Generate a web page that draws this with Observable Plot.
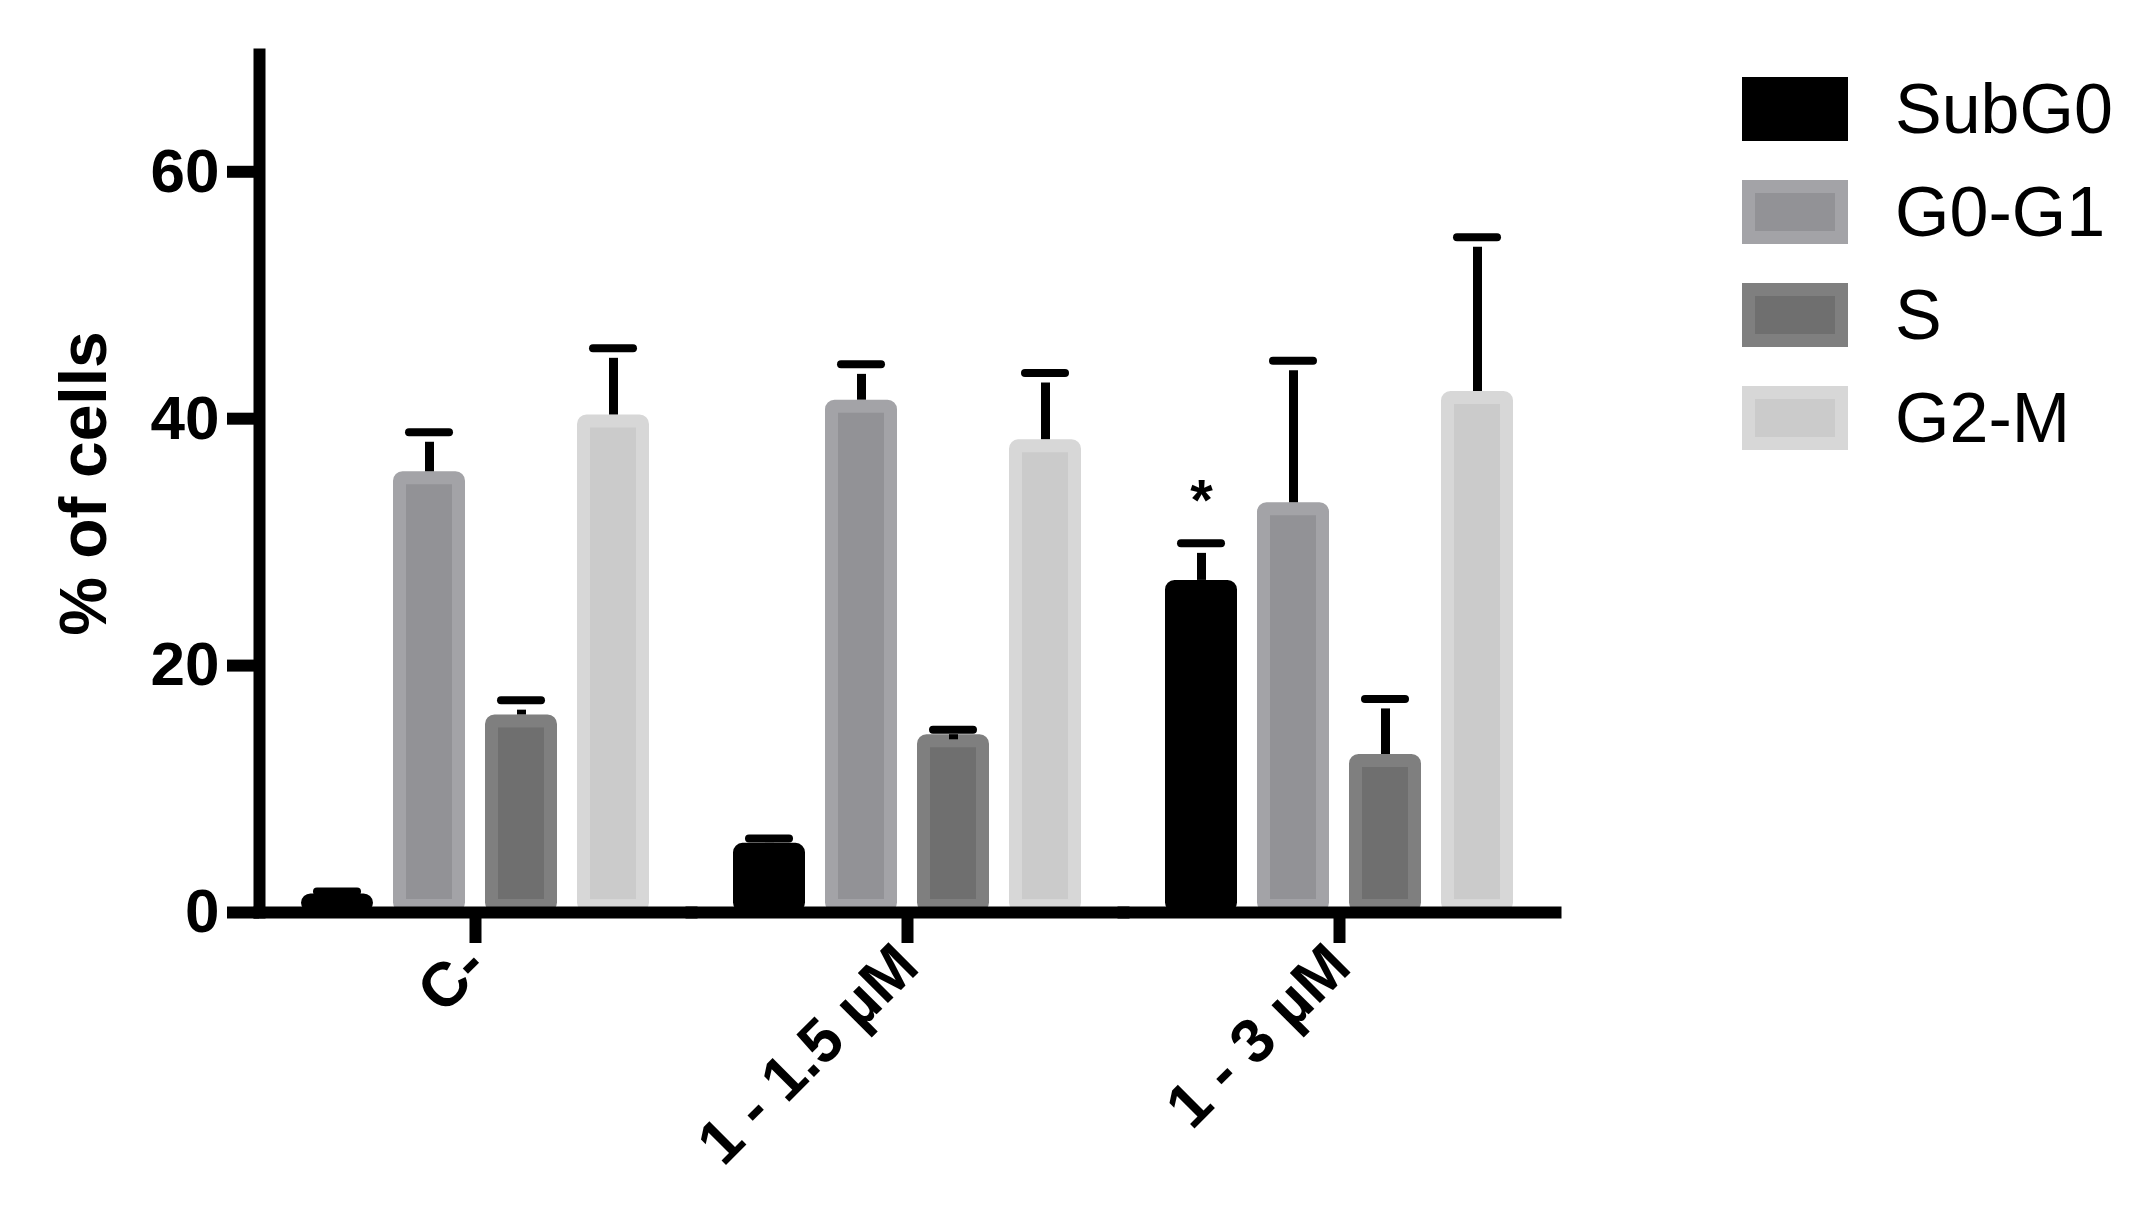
<!DOCTYPE html>
<html>
<head>
<meta charset="utf-8">
<script src="https://cdn.jsdelivr.net/npm/d3@7"></script>
<script src="https://cdn.jsdelivr.net/npm/@observablehq/plot@0.6"></script>
<style>
  html, body { margin: 0; padding: 0; background: #fff; }
  #wrap { position: relative; width: 2142px; height: 1214px; overflow: hidden; font-family: "Liberation Sans", Arial, sans-serif; }
  #chart { position: absolute; left: 0; top: 0; }
  #legend { position: absolute; left: 1742px; top: 77px; }
  .row { display: flex; align-items: center; height: 64px; margin-bottom: 39px; }
  .sw { width: 106px; height: 64px; box-sizing: border-box; border: 13px solid; }
  .lab { margin-left: 47px; font-size: 70px; color: #000; line-height: 1; }
  [aria-label="y-axis label"] text, [aria-label="y-axis label"] { font-size: 66px; }
</style>
</head>
<body>
<div id="wrap">
  <div id="chart"></div>
  <div id="legend"></div>
</div>
<script>
// ---- data ----
const groups = ["C-", "1 - 1.5 µM", "1 - 3 µM"];
const phases = ["SubG0", "G0-G1", "S", "G2-M"];
const subG0 = [1.5, 5.6, 26.9];
const g0g1 = [35.7, 41.5, 33.2];
const sPhase = [16.0, 14.4, 12.8];
const g2m = [40.3, 38.3, 42.2];
const subG0Err = [0.2, 0.4, 3.0];
const g0g1Err = [3.2, 2.9, 11.5];
const sPhaseErr = [1.2, 0.4, 4.5];
const g2mErr = [5.4, 5.4, 12.5];
const yTicks = [0, 20, 40, 60];
const stars = [{group: "1 - 3 µM", phase: "SubG0", mark: "*"}];

// ---- styles ----
const FILL = {"SubG0": "#000000", "G0-G1": "#929296", "S": "#6f6f6f", "G2-M": "#cbcbcb"};
const EDGE = {"SubG0": "#000000", "G0-G1": "#a3a3a7", "S": "#7f7f7f", "G2-M": "#d7d7d7"};

const series = [subG0, g0g1, sPhase, g2m];
const errs = [subG0Err, g0g1Err, sPhaseErr, g2mErr];
const rows = [];
groups.forEach((g, gi) => phases.forEach((p, pi) => {
  rows.push({group: g, phase: p, value: series[pi][gi], hi: series[pi][gi] + errs[pi][gi]});
}));
const starRows = stars.map(s => ({...s, hi: rows.find(r => r.group === s.group && r.phase === s.phase).hi}));

const chart = Plot.plot({
  width: 1600,
  height: 1214,
  marginLeft: 258,
  marginRight: 44,
  marginTop: 54,
  marginBottom: 302,
  style: {fontFamily: "'Liberation Sans', Arial, sans-serif", background: "#fff", color: "#000"},
  fx: {domain: groups, padding: 0, label: null},
  x: {domain: phases, paddingInner: 0.214, paddingOuter: 0.447, axis: null},
  y: {domain: [0, 69.5], axis: null},
  color: {type: "identity"},
  marks: [
    Plot.barY(rows, {
      fx: "group", x: "phase", y: "value",
      fill: d => FILL[d.phase], stroke: d => EDGE[d.phase],
      strokeWidth: 13, inset: 6.5, rx: 3
    }),
    Plot.ruleX(rows, {fx: "group", x: "phase", y1: "value", y2: "hi", stroke: "#000", strokeWidth: 9, insetBottom: -10}),
    Plot.tickY(rows, {fx: "group", x: "phase", y: "hi", stroke: "#000", strokeWidth: 8, insetLeft: 16, insetRight: 16, strokeLinecap: "round"}),
    Plot.text(starRows, {fx: "group", x: "phase", y: "hi", text: "mark", fontSize: 58, fontWeight: "bold", dy: -42, fill: "#000"}),
    Plot.frame({anchor: "bottom", stroke: "#000", strokeWidth: 12, strokeLinecap: "square"}),
    Plot.frame({anchor: "left", facetAnchor: "left", stroke: "#000", strokeWidth: 12}),
    Plot.axisY({
      ticks: yTicks, tickSize: 32, tickPadding: 8, strokeWidth: 12,
      fontSize: 62, fontWeight: "bold", label: "% of cells", labelAnchor: "center",
      labelOffset: 200, labelArrow: "none"
    }),
    Plot.axisFx({
      anchor: "bottom",
      tickSize: 31, strokeWidth: 12, tickRotate: -45, tickPadding: 12,
      fontSize: 62, fontWeight: "bold", label: null
    })
  ]
});
document.getElementById("chart").appendChild(chart);

// ---- legend ----
const legend = document.getElementById("legend");
phases.forEach(p => {
  const row = document.createElement("div");
  row.className = "row";
  const sw = document.createElement("div");
  sw.className = "sw";
  sw.style.background = FILL[p];
  sw.style.borderColor = EDGE[p];
  const lab = document.createElement("div");
  lab.className = "lab";
  lab.textContent = p;
  row.appendChild(sw);
  row.appendChild(lab);
  legend.appendChild(row);
});
</script>
</body>
</html>
